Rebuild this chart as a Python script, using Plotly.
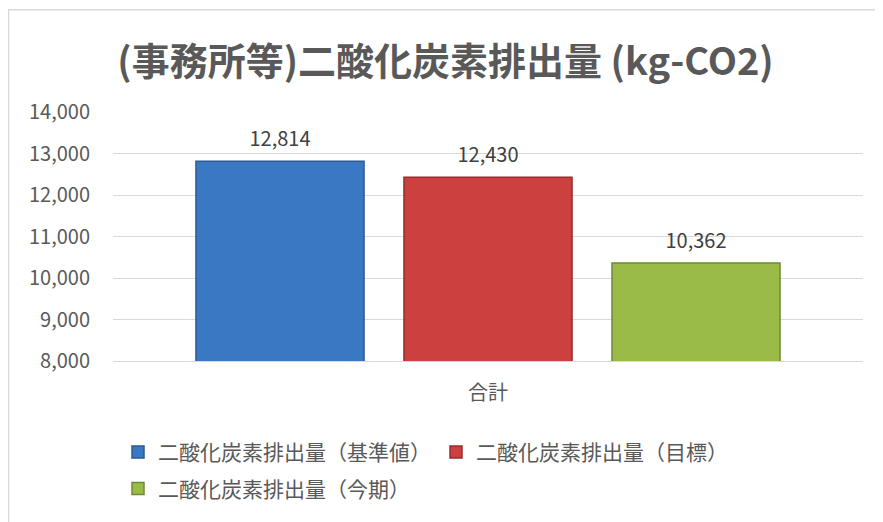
import plotly.graph_objects as go

categories = ["合計"]
series_names = ["二酸化炭素排出量（基準値）", "二酸化炭素排出量（目標）", "二酸化炭素排出量（今期）"]
values_base = [12814]
values_target = [12430]
values_current = [10362]
series_values = [values_base, values_target, values_current]
fill_colors = ["#3b78c4", "#cc4040", "#9bbb48"]
line_colors = ["#2b5a94", "#962d2b", "#6f8a36"]
y_tick_vals = [8000, 9000, 10000, 11000, 12000, 13000, 14000]
y_tick_text = ["8,000", "9,000", "10,000", "11,000", "12,000", "13,000", "14,000"]
title_text = "(事務所等)二酸化炭素排出量 (kg-CO2)"

FONT = "Noto Sans CJK JP"
TXT = "#595959"

OFF = 8  # page body margin
W, H = 883 - OFF, 522 - OFF
L, R, T, B = 105, 20, 104, 159
pw, ph = W - L - R, H - T - B


def px_x(sx):
    return (sx - OFF - L) / pw


def px_y(sy):
    return (H - B - (sy - OFF)) / ph


fig = go.Figure()
legend_ids = ["legend", "legend", "legend2"]
for i, (name, vals) in enumerate(zip(series_names, series_values)):
    fig.add_trace(go.Bar(
        x=categories, y=vals, name=name,
        offsetgroup=str(i), legend=legend_ids[i],
        marker=dict(color=fill_colors[i], line=dict(color=line_colors[i], width=1.5)),
        hoverinfo="skip",
    ))
for i, vals in enumerate(series_values):
    fig.add_trace(go.Scatter(
        x=categories, y=vals, mode="markers+text", offsetgroup=str(i),
        text=[f"{v:,}" for v in vals], textposition="top center",
        textfont=dict(family=FONT, size=20, color="#404040"),
        marker=dict(size=14, color="rgba(0,0,0,0)"),
        showlegend=False, hoverinfo="skip", cliponaxis=False,
    ))

fig.update_layout(
    width=W, height=H,
    margin=dict(l=L, r=R, t=T, b=B),
    paper_bgcolor="white", plot_bgcolor="white",
    font=dict(family=FONT, color=TXT),
    barmode="group", bargap=0.168, bargroupgap=0.192,
    scattermode="group", scattergap=0.168,
    title=dict(text=title_text, x=0.5, xanchor="center", y=1 - (62 - OFF) / H, yanchor="middle",
               font=dict(family=FONT, size=38, color=TXT, weight="bold")),
    xaxis=dict(showline=True, linecolor="#d9d9d9", linewidth=1, showgrid=False,
               ticks="", tickfont=dict(family=FONT, size=20, color=TXT), ticklabelstandoff=14),
    yaxis=dict(range=[8000, 14000], tickvals=y_tick_vals, ticktext=y_tick_text,
               showgrid=True, gridcolor="#d9d9d9", gridwidth=1, zeroline=False,
               ticks="", tickfont=dict(family=FONT, size=20, color=TXT), ticklabelstandoff=22),
    legend=dict(orientation="h", x=px_x(118), xanchor="left", y=px_y(455), yanchor="middle",
                font=dict(family=FONT, size=21, color=TXT), bgcolor="rgba(0,0,0,0)"),
    legend2=dict(orientation="h", x=px_x(118), xanchor="left", y=px_y(492), yanchor="middle",
                 font=dict(family=FONT, size=21, color=TXT), bgcolor="rgba(0,0,0,0)"),
    showlegend=True,
    shapes=[dict(type="rect", xref="paper", yref="paper",
                 x0=px_x(OFF + 0.5), x1=px_x(900), y0=px_y(560), y1=px_y(OFF + 1),
                 line=dict(color="#d9d9d9", width=1.5), fillcolor="rgba(0,0,0,0)", layer="below")],
)

fig.write_html("out.html")
